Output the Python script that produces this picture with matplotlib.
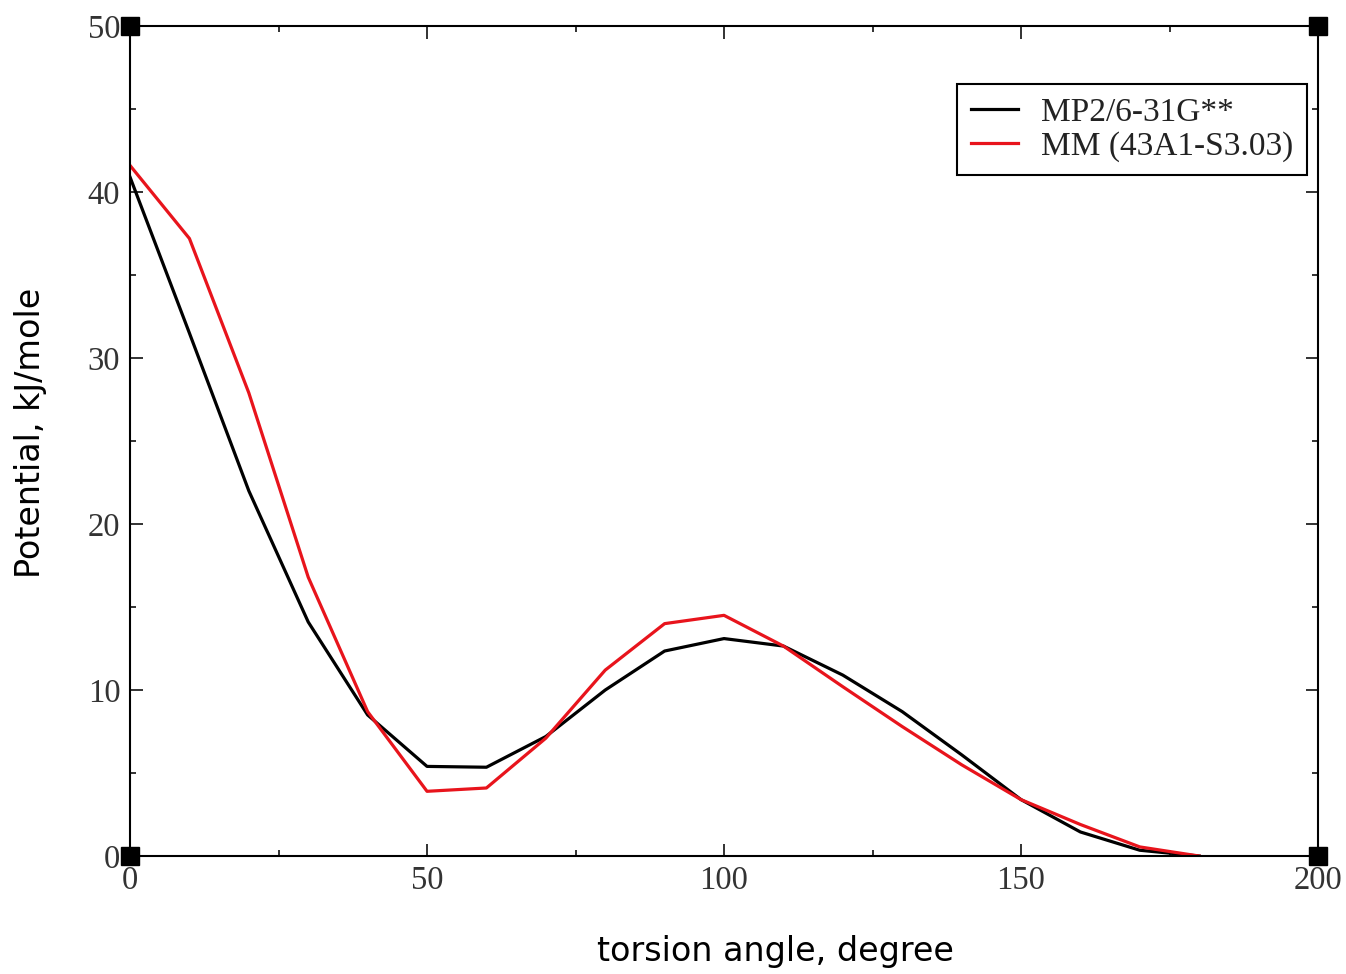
import numpy as np
import matplotlib
matplotlib.use('Agg')
import matplotlib.pyplot as plt
from matplotlib.ticker import MultipleLocator

# torsion scan, every 10 degrees
angle = [0, 10, 20, 30, 40, 50, 60, 70, 80, 90, 100, 110, 120, 130, 140, 150, 160, 170, 180]
mp2 = [40.9, 31.5, 22.0, 14.1, 8.5, 5.4, 5.35, 7.2, 10.0, 12.35, 13.1, 12.65, 10.9, 8.7, 6.1, 3.4, 1.45, 0.35, 0.0]
mm = [41.6, 37.2, 27.9, 16.8, 8.7, 3.9, 4.1, 7.1, 11.2, 14.0, 14.5, 12.65, 10.2, 7.8, 5.5, 3.4, 1.9, 0.55, 0.0]

labels = ['MP2/6-31G**', 'MM (43A1-S3.03)']

fig = plt.figure(figsize=(13.46, 9.74), dpi=100)
ax = fig.add_axes([0.0966, 0.1211, 0.8826, 0.8522])

ax.plot(angle, mp2, color='black', lw=2.3, label=labels[0])
ax.plot(angle, mm, color='#e8141c', lw=2.3, label=labels[1])

ax.set_xlim(0, 200)
ax.set_ylim(0, 50)
ax.xaxis.set_major_locator(MultipleLocator(50))
ax.xaxis.set_minor_locator(MultipleLocator(25))
ax.yaxis.set_major_locator(MultipleLocator(10))
ax.yaxis.set_minor_locator(MultipleLocator(5))

ax.tick_params(which='both', direction='in', top=True, right=True, width=1.3, colors='#222222')
ax.tick_params(which='major', length=9, pad=7, labelsize=23.5)
ax.tick_params(which='minor', length=4.5)
for lab in ax.get_xticklabels() + ax.get_yticklabels():
    lab.set_fontfamily('Liberation Serif')
    lab.set_color('#333333')
for s in ax.spines.values():
    s.set_linewidth(1.5)

# grace style corner markers
ax.plot([0, 200, 0, 200], [0, 0, 50, 50], 's', color='black', ms=13,
        clip_on=False, zorder=5)

ax.set_xlabel('torsion angle, degree', fontsize=24, family='DejaVu Sans')
ax.xaxis.set_label_coords(0.543, -0.095)
ax.set_ylabel('Potential, kJ/mole', fontsize=24, family='DejaVu Sans')
ax.yaxis.set_label_coords(-0.070, 0.51)

leg = ax.legend(loc='upper right', bbox_to_anchor=(0.9907, 0.930), borderaxespad=0,
                fancybox=False, edgecolor='black', framealpha=1,
                handlelength=1.42, handletextpad=0.7, borderpad=0.4, labelspacing=0.1,
                prop={'family': 'Liberation Serif', 'size': 24})
leg.get_frame().set_linewidth(1.5)
for t in leg.get_texts():
    t.set_color('#222222')

fig.savefig('out.png', dpi=100)
